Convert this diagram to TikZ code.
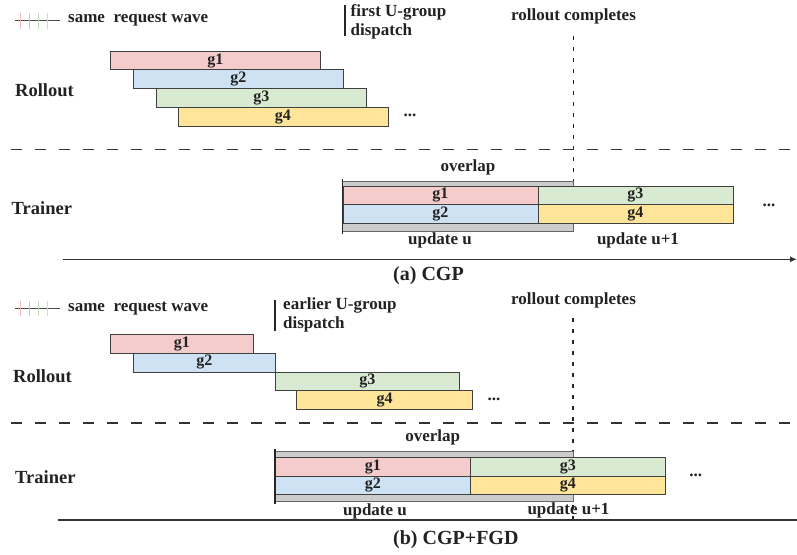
\documentclass[tikz,border=0pt]{standalone}
\usepackage{fontspec}
\setmainfont{Liberation Serif}
\usetikzlibrary{arrows.meta}
\definecolor{gonecol}{HTML}{F4CCCC}
\definecolor{gtwocol}{HTML}{CFE2F3}
\definecolor{gthreecol}{HTML}{D9EAD3}
\definecolor{gfourcol}{HTML}{FFE599}
\definecolor{overcol}{HTML}{CCCCCC}
\definecolor{txtcol}{HTML}{222222}
\definecolor{tickone}{HTML}{F2B8B8}
\definecolor{ticktwo}{HTML}{B4CFEC}
\definecolor{tickthree}{HTML}{BFDDB2}
\definecolor{tickfour}{HTML}{FFD66E}
\begin{document}
\begin{tikzpicture}[x=1pt,y=-1pt,
    bar/.style={draw=black!75,line width=0.9pt,inner sep=0pt,anchor=north west,
      text=txtcol,font=\fontsize{16}{16}\selectfont\bfseries},
    lbl/.style={inner sep=0pt,text=txtcol,font=\fontsize{17}{19.5}\selectfont\bfseries},
    rowlbl/.style={inner sep=0pt,anchor=west,text=txtcol,font=\fontsize{18.5}{19}\selectfont\bfseries},
    caplbl/.style={inner sep=0pt,anchor=west,text=txtcol,font=\fontsize{20}{21}\selectfont\bfseries},
    overbox/.style={draw=black!60,line width=0.9pt,fill=overcol},
    sepline/.style={line width=1.6pt,black!80,dash pattern=on 10.5pt off 13.5pt},
    doneline/.style={line width=1.4pt,black!85,dash pattern=on 4pt off 7pt},
    tick/.style={line width=1pt}]
    \useasboundingbox (0,0) rectangle (797,554);

    % (a) CGP
    \coordinate (LA1) at (15, 20);
    \coordinate (LA2) at (60, 20);
    \draw[black!70,line width=0.9pt] (LA1) -- (LA2);
    \draw[tick,tickone] (20.5, 13) -- (20.5, 29);
    \draw[tick,ticktwo] (29.3, 13) -- (29.3, 29);
    \draw[tick,tickthree] (38.3, 13) -- (38.3, 29);
    \draw[tick,tickfour] (47.3, 13) -- (47.3, 29);
    \node[lbl,anchor=west] (wavea) at (68, 20) {same\ \ request wave};

    \coordinate (DA1) at (345, 5);
    \coordinate (DA2) at (345, 36);
    \draw[line width=1.4pt,black!85] (DA1) -- (DA2);
    \node[lbl,anchor=west,align=left] (dispa) at (350.5, 22) {first U-group\\dispatch};
    \node[lbl] (donea) at (573.5, 16.5) {rollout completes};

    \node[rowlbl] (rolla) at (15, 90) {Rollout};
    \node[bar,fill=gonecol,minimum width=210,minimum height=18.7] (ra1) at (110, 50.7) {g1};
    \node[bar,fill=gtwocol,minimum width=210,minimum height=18.7] (ra2) at (133, 69.4) {g2};
    \node[bar,fill=gthreecol,minimum width=210,minimum height=18.7] (ra3) at (156, 88.1) {g3};
    \node[bar,fill=gfourcol,minimum width=210,minimum height=18.7] (ra4) at (177.5, 106.8) {g4};
    \node[lbl] (morera) at (410, 115) {...};

    \coordinate (CA1) at (573.5, 36);
    \coordinate (CA2) at (573.5, 185);
    \draw[doneline] (CA1) -- (CA2);

    \coordinate (SA1) at (11, 149.5);
    \coordinate (SA2) at (797, 149.5);
    \draw[sepline] (SA1) -- (SA2);

    \node[rowlbl] (traina) at (11.5, 207.7) {Trainer};
    \node[lbl] (overa) at (468, 167) {overlap};
    \draw[overbox] (342.5, 181.7) rectangle (573.5, 231.7);
    \node[bar,fill=gonecol,minimum width=195,minimum height=18.6] (ta1) at (342.5, 185.7) {g1};
    \node[bar,fill=gtwocol,minimum width=195,minimum height=19] (ta2) at (342.5, 204.3) {g2};
    \node[bar,fill=gthreecol,minimum width=195,minimum height=18.6] (ta3) at (537.5, 185.7) {g3};
    \node[bar,fill=gfourcol,minimum width=195,minimum height=19] (ta4) at (537.5, 204.3) {g4};
    \coordinate (VA1) at (342.3, 178.7);
    \coordinate (VA2) at (342.3, 234);
    \draw[line width=1.6pt,black!85] (VA1) -- (VA2);
    \node[lbl] (moreta) at (769, 205) {...};
    \node[lbl] (upda) at (440, 240) {update u};
    \node[lbl] (updanext) at (638, 240) {update u+1};

    \coordinate (XA1) at (63, 259.3);
    \coordinate (XA2) at (797, 259.3);
    \draw[line width=1.3pt,black!80,-{Latex[length=7pt,width=6pt]}] (XA1) -- (XA2);
    \node[caplbl] (capa) at (393, 275.5) {(a) CGP};

    % (b) CGP+FGD
    \coordinate (LB1) at (15, 308.3);
    \coordinate (LB2) at (60, 308.3);
    \draw[black!70,line width=0.9pt] (LB1) -- (LB2);
    \draw[tick,tickone] (20.5, 301) -- (20.5, 316);
    \draw[tick,ticktwo] (29.3, 301) -- (29.3, 316);
    \draw[tick,tickthree] (38.3, 301) -- (38.3, 316);
    \draw[tick,tickfour] (47.3, 301) -- (47.3, 316);
    \node[lbl,anchor=west] (waveb) at (68, 308.3) {same\ \ request wave};

    \coordinate (DB1) at (275, 300);
    \coordinate (DB2) at (275, 331);
    \draw[line width=1.4pt,black!85] (DB1) -- (DB2);
    \node[lbl,anchor=west,align=left] (dispb) at (283, 315) {earlier U-group\\dispatch};
    \node[lbl] (doneb) at (573.5, 300) {rollout completes};

    \node[rowlbl] (rollb) at (13, 376) {Rollout};
    \node[bar,fill=gonecol,minimum width=142.7,minimum height=18.5] (rb1) at (110, 334) {g1};
    \node[bar,fill=gtwocol,minimum width=142,minimum height=19] (rb2) at (133, 352.5) {g2};
    \node[bar,fill=gthreecol,minimum width=184,minimum height=18.5] (rb3) at (275, 371.5) {g3};
    \node[bar,fill=gfourcol,minimum width=176.3,minimum height=19] (rb4) at (296, 390) {g4};
    \node[lbl] (morerb) at (494, 399) {...};

    \coordinate (CB1) at (573, 318);
    \coordinate (CB2) at (573, 523);
    \draw[doneline] (CB1) -- (CB2);

    \coordinate (SB1) at (11, 422.7);
    \coordinate (SB2) at (797, 422.7);
    \draw[sepline] (SB1) -- (SB2);

    \node[rowlbl] (trainb) at (15, 477) {Trainer};
    \node[lbl] (overb) at (432.7, 437) {overlap};
    \draw[overbox] (275, 451.7) rectangle (573, 501.7);
    \node[bar,fill=gonecol,minimum width=195,minimum height=19] (tb1) at (275, 456.7) {g1};
    \node[bar,fill=gtwocol,minimum width=195,minimum height=18.3] (tb2) at (275, 475.7) {g2};
    \node[bar,fill=gthreecol,minimum width=195,minimum height=19] (tb3) at (470, 456.7) {g3};
    \node[bar,fill=gfourcol,minimum width=195,minimum height=18.3] (tb4) at (470, 475.7) {g4};
    \coordinate (VB1) at (275, 449);
    \coordinate (VB2) at (275, 504);
    \draw[line width=1.6pt,black!85] (VB1) -- (VB2);
    \node[lbl] (moretb) at (695.7, 475) {...};
    \node[lbl] (updb) at (375, 511.7) {update u};
    \node[lbl] (updbnext) at (568.5, 510) {update u+1};

    \coordinate (XB1) at (57.7, 520);
    \coordinate (XB2) at (797, 520);
    \draw[line width=1.3pt,black!80] (XB1) -- (XB2);
    \node[caplbl] (capb) at (393, 540) {(b) CGP+FGD};
\end{tikzpicture}
\end{document}
